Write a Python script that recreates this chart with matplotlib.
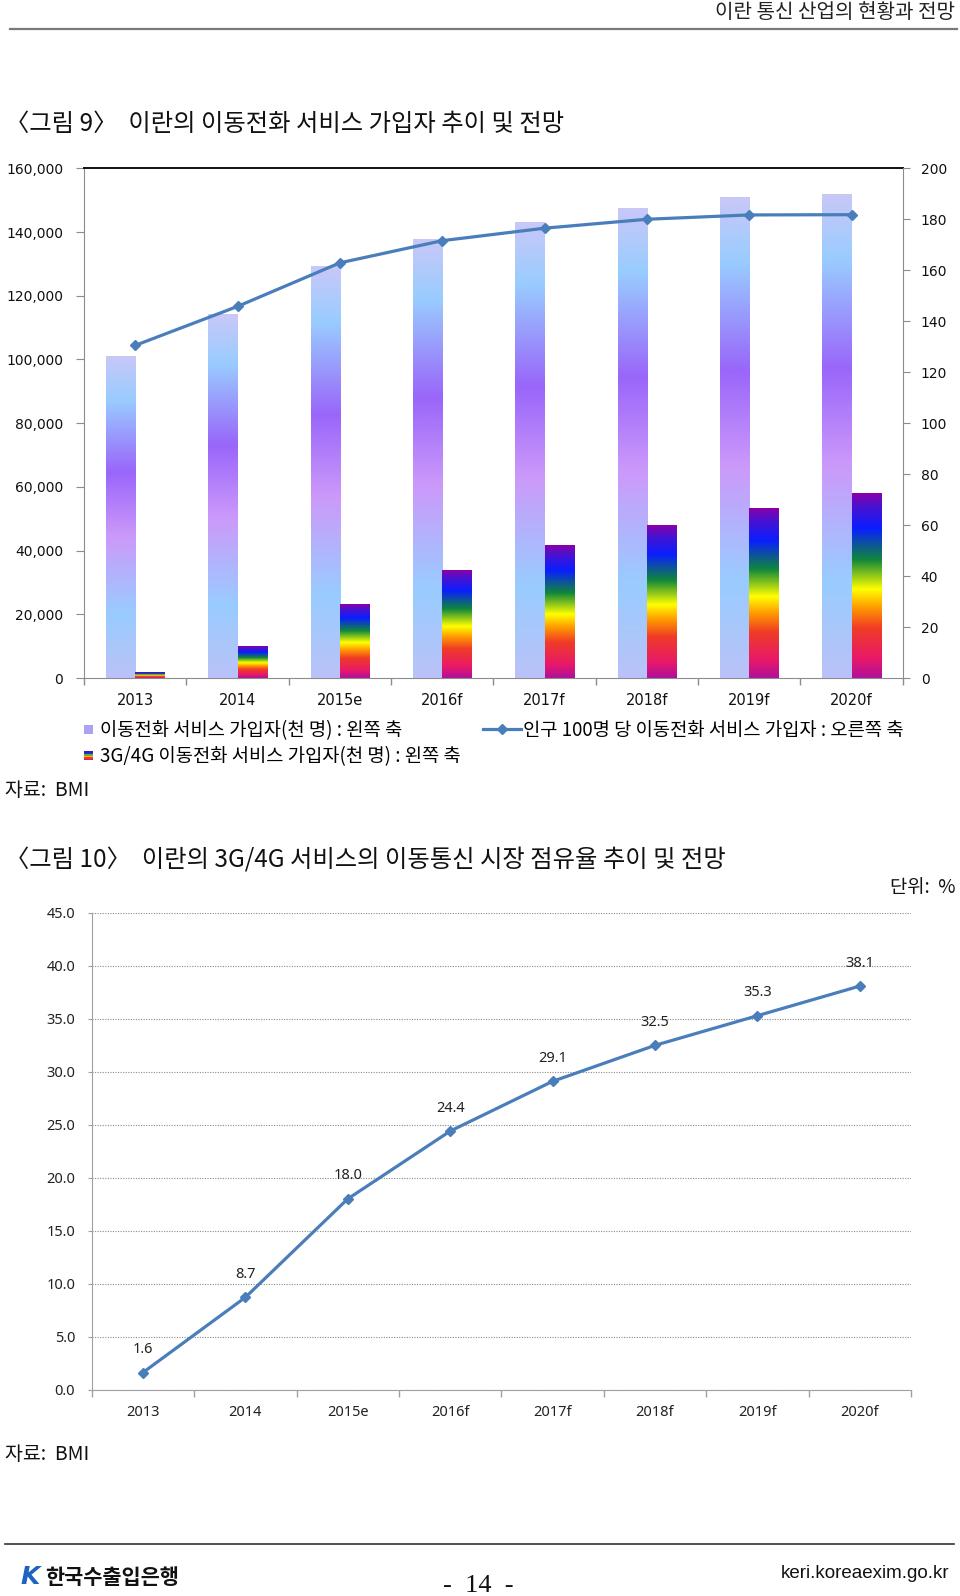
import numpy as np
import matplotlib
matplotlib.use("Agg")
import matplotlib.pyplot as plt
from matplotlib.colors import LinearSegmentedColormap
from matplotlib.patches import Rectangle
from matplotlib.legend_handler import HandlerBase
from matplotlib.lines import Line2D
from matplotlib.font_manager import FontProperties

# ---------------- data ----------------
years = ['2013', '2014', '2015e', '2016f', '2017f', '2018f', '2019f', '2020f']
mobile_subs = [100800, 114100, 129100, 137600, 142900, 147500, 150700, 151700]   # thousand, left axis
subs_3g4g = [1700, 9900, 23000, 33600, 41700, 48000, 53200, 57800]               # thousand, left axis
per100 = [130.5, 145.8, 162.9, 171.6, 176.5, 180.0, 181.7, 181.8]                # right axis
share_3g4g = [1.6, 8.7, 18.0, 24.4, 29.1, 32.5, 35.3, 38.1]                      # %
left_ticks = [0, 20000, 40000, 60000, 80000, 100000, 120000, 140000, 160000]
right_ticks = [0, 20, 40, 60, 80, 100, 120, 140, 160, 180, 200]
share_ticks = [0, 5, 10, 15, 20, 25, 30, 35, 40, 45]

# ---------------- style ----------------
W, H = 960, 1596
KR = 'Noto Sans CJK KR'
LINE_C = '#4a7ebb'
GRAY = '#8c8c8c'


def fx(x):
    return x / W


def fy(y):
    return 1 - y / H


calm = LinearSegmentedColormap.from_list('calm', [
    (0.00, '#bac2f8'), (0.20, '#99ccff'), (0.44, '#cc99fa'),
    (0.64, '#9966fa'), (0.865, '#99ccff'), (1.00, '#c8c8f8')])
rainbow = LinearSegmentedColormap.from_list('rb', [
    (0.00, '#b0109a'), (0.10, '#e8186a'), (0.27, '#f03c26'), (0.38, '#ff9900'),
    (0.48, '#ffff00'), (0.64, '#10883a'), (0.81, '#0a1eff'), (0.93, '#4a12d0'),
    (1.00, '#8a00a8')])

fig = plt.figure(figsize=(W / 100, H / 100), dpi=100)

# ---------------- page texts ----------------
fig.text(fx(955), fy(12.5), '이란 통신 산업의 현황과 전망', ha='right', va='center',
         family=KR, size=14.5, color='#222222')
fig.add_artist(Line2D([fx(10), fx(957)], [fy(28.5), fy(28.5)], color='#7a7a7a', lw=1.6))
fig.text(fx(5), fy(124), '〈그림 9〉  이란의 이동전화 서비스 가입자 추이 및 전망', ha='left',
         va='center', family=KR, size=17.5, color='#111111')
fig.text(fx(5), fy(790), '자료:  BMI', ha='left', va='center', family=KR, size=14, color='#111111')
fig.text(fx(5), fy(860), '〈그림 10〉  이란의 3G/4G 서비스의 이동통신 시장 점유율 추이 및 전망',
         ha='left', va='center', family=KR, size=17.5, color='#111111')
fig.text(fx(955), fy(888), '단위:  %', ha='right', va='center', family=KR, size=13.5, color='#111111')
fig.text(fx(5), fy(1454), '자료:  BMI', ha='left', va='center', family=KR, size=14, color='#111111')
fig.add_artist(Line2D([fx(5), fx(954)], [fy(1544), fy(1544)], color='#333333', lw=1.2))
fig.text(fx(20), fy(1577), 'K', ha='left', va='center', family='DejaVu Sans', weight='bold',
         style='italic', size=18, color='#1c64c0')
fig.text(fx(45), fy(1577), '한국수출입은행', ha='left', va='center', family=KR, weight='bold',
         size=15, color='#111111')
fig.text(fx(478), fy(1586), '-  14  -', ha='center', va='center', family='Liberation Serif',
         size=19, color='#111111')
fig.text(fx(949), fy(1574), 'keri.koreaexim.go.kr', ha='right', va='center',
         family='Liberation Sans', size=13.5, color='#111111')

# ---------------- chart 1 ----------------
x = np.arange(len(years))
bw = 0.285
ax = fig.add_axes([fx(84), fy(678), fx(902.7) - fx(84), fy(168.3) - fy(678)])
bars_total = ax.bar(x - bw / 2, mobile_subs, width=bw, zorder=2)
bars_3g = ax.bar(x + bw / 2, subs_3g4g, width=bw, zorder=2)


def gradient_bars(axis, bars, cmap):
    grad = np.linspace(0, 1, 256).reshape(-1, 1)
    for b in bars:
        x0, y0, w, h = b.get_x(), b.get_y(), b.get_width(), b.get_height()
        axis.imshow(grad, extent=[x0, x0 + w, y0, y0 + h], origin='lower', aspect='auto',
                    cmap=cmap, interpolation='bilinear', zorder=2)
        b.set_facecolor('none')
        b.set_edgecolor('none')


gradient_bars(ax, bars_total, calm)
gradient_bars(ax, bars_3g, rainbow)
ax.set_xlim(-0.5, len(years) - 0.5)
ax.set_ylim(0, 160000)
ax.set_yticks(left_ticks)
ax.set_yticklabels([f'{v:,}' for v in left_ticks])
ax.set_xticks(x)
ax.set_xticklabels(years)
ax.set_xticks(np.arange(-0.5, len(years), 1.0), minor=True)
ax.tick_params(axis='x', which='major', length=0, pad=11, labelsize=10.5, labelcolor='#111111')
ax.tick_params(axis='x', which='minor', length=5, direction='out', color=GRAY, width=1)
ax.tick_params(axis='y', length=6, direction='out', color=GRAY, pad=9, labelsize=10,
               labelcolor='#111111')
for lab in ax.get_xticklabels() + ax.get_yticklabels():
    lab.set_family('DejaVu Sans')
ax.spines['top'].set_color('#111111')
ax.spines['top'].set_linewidth(1.4)
ax.spines['left'].set_color(GRAY)
ax.spines['bottom'].set_color(GRAY)
ax.spines['right'].set_visible(False)

ax2 = ax.twinx()
ax2.plot(x, per100, color=LINE_C, lw=2.3, marker='D', ms=5.5, mfc=LINE_C, mec=LINE_C, zorder=5)
ax2.set_ylim(0, 200)
ax2.set_yticks(right_ticks)
ax2.tick_params(axis='y', length=5, direction='out', color=GRAY, pad=8, labelsize=10,
                labelcolor='#111111')
for lab in ax2.get_yticklabels():
    lab.set_family('DejaVu Sans')
for s in ['top', 'left', 'bottom']:
    ax2.spines[s].set_visible(False)
ax2.spines['right'].set_color(GRAY)


# legend
class GradientSquare(HandlerBase):
    def __init__(self, cmap=None, solid=None, n=6, **kw):
        super().__init__(**kw)
        self.cmap = cmap
        self.solid = solid
        self.n = n

    def create_artists(self, legend, orig_handle, xdescent, ydescent, width, height,
                       fontsize, trans):
        s = 0.48 * fontsize
        x0 = -xdescent
        y0 = -ydescent + (height - s) / 2
        arts = []
        if self.solid is not None:
            arts.append(Rectangle((x0, y0), s, s, facecolor=self.solid, edgecolor='none',
                                  transform=trans))
        else:
            for i in range(self.n):
                arts.append(Rectangle((x0, y0 + i * s / self.n), s, s / self.n,
                                      facecolor=self.cmap((i + 0.5) / self.n),
                                      edgecolor='none', transform=trans))
        return arts


h_total = Rectangle((0, 0), 1, 1)
h_3g = Rectangle((0, 0), 1, 1)
h_line = Line2D([], [], color=LINE_C, lw=2.3, marker='D', ms=5.5, mfc=LINE_C, mec=LINE_C)
prop = FontProperties(family=KR, size=13.5)
fig.legend([h_total, h_3g],
           ['이동전화 서비스 가입자(천 명) : 왼쪽 축', '3G/4G 이동전화 서비스 가입자(천 명) : 왼쪽 축'],
           loc='upper left', bbox_to_anchor=(fx(84), fy(720)), frameon=False, prop=prop,
           handlelength=0.55, handletextpad=0.3, borderpad=0, borderaxespad=0, labelspacing=0.28,
           handler_map={h_total: GradientSquare(solid='#aba2f4'),
                        h_3g: GradientSquare(cmap=rainbow, n=6)})
fig.legend([h_line], ['인구 100명 당 이동전화 서비스 가입자 : 오른쪽 축'],
           loc='upper left', bbox_to_anchor=(fx(483), fy(720)), frameon=False, prop=prop,
           handlelength=2.0, handletextpad=0.12, borderpad=0, borderaxespad=0)

# ---------------- chart 2 ----------------
ax3 = fig.add_axes([fx(91.7), fy(1389.5), fx(911) - fx(91.7), fy(913) - fy(1389.5)])
ax3.plot(x, share_3g4g, color=LINE_C, lw=2.3, marker='D', ms=5, mfc=LINE_C, mec=LINE_C,
         zorder=5, clip_on=False)
for xi, v in zip(x, share_3g4g):
    ax3.annotate(f'{v:.1f}', (xi, v), xytext=(0, 16.5), textcoords='offset points',
                 ha='center', va='center', family='Noto Sans', size=10.5, color='#222222')
ax3.set_xlim(-0.5, len(years) - 0.5)
ax3.set_ylim(0, 45)
ax3.set_yticks(share_ticks)
ax3.set_yticklabels([f'{v:.1f}' for v in share_ticks])
ax3.set_xticks(x)
ax3.set_xticklabels(years)
ax3.set_xticks(np.arange(-0.5, len(years), 1.0), minor=True)
ax3.yaxis.grid(True, linestyle=(0, (1, 1.3)), color='#8a8a8a', lw=0.8)
ax3.set_axisbelow(True)
ax3.tick_params(axis='x', which='major', length=0, pad=11, labelsize=10.5, labelcolor='#222222')
ax3.tick_params(axis='x', which='minor', length=5, direction='out', color='#a0a0a0', width=1)
ax3.tick_params(axis='y', length=3, direction='out', color='#a0a0a0', pad=9, labelsize=10.5,
                labelcolor='#222222')
for lab in ax3.get_xticklabels() + ax3.get_yticklabels():
    lab.set_family('Noto Sans')
ax3.spines['top'].set_visible(False)
ax3.spines['right'].set_visible(False)
ax3.spines['left'].set_color('#a0a0a0')
ax3.spines['bottom'].set_color('#a0a0a0')

fig.savefig('out.png', dpi=100)
